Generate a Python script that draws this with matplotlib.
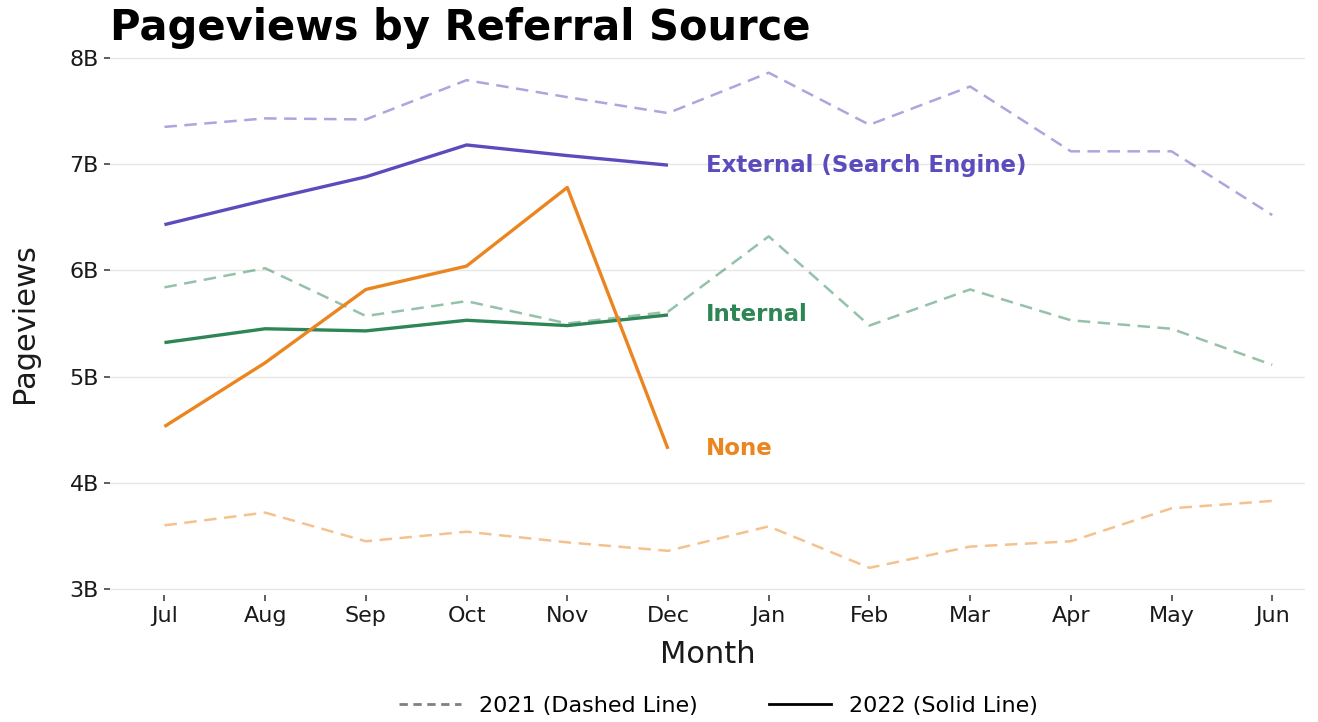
import numpy as np
import matplotlib.pyplot as plt
from matplotlib.lines import Line2D

months = ["Jul", "Aug", "Sep", "Oct", "Nov", "Dec",
          "Jan", "Feb", "Mar", "Apr", "May", "Jun"]

# values in billions
external_2021 = [7.35, 7.43, 7.42, 7.79, 7.63, 7.48, 7.86, 7.37, 7.73, 7.12, 7.12, 6.52]
internal_2021 = [5.84, 6.02, 5.57, 5.71, 5.50, 5.61, 6.32, 5.48, 5.82, 5.53, 5.45, 5.11]
none_2021 = [3.60, 3.72, 3.45, 3.54, 3.44, 3.36, 3.59, 3.20, 3.40, 3.45, 3.76, 3.83]

external_2022 = [6.43, 6.66, 6.88, 7.18, 7.08, 6.99]
internal_2022 = [5.32, 5.45, 5.43, 5.53, 5.48, 5.58]
none_2022 = [4.53, 5.13, 5.82, 6.04, 6.78, 4.32]

sources = ["External (Search Engine)", "Internal", "None"]
colors = ["#5b4cbe", "#2e8555", "#ea8520"]

plt.rcParams['font.family'] = ['DejaVu Sans']

fig = plt.figure(figsize=(13.18, 7.22), dpi=100)
ax = fig.add_axes([0.0835, 0.176, 0.907, 0.752])

x_all = np.arange(len(months))
x_22 = np.arange(len(external_2022))

old = [external_2021, internal_2021, none_2021]
new = [external_2022, internal_2022, none_2022]
for name, c, y21, y22 in zip(sources, colors, old, new):
    ax.plot(x_all, y21, color=c, alpha=0.5, lw=1.8, dashes=(5, 3))
    ax.plot(x_22, y22, color=c, lw=2.4, solid_capstyle='butt')
    ax.text(x_22[-1] + 0.38, y22[-1], name, color=c, fontsize=16.5,
            fontweight='bold', va='center', ha='left')

ax.set_xlim(-0.54, 11.33)
ax.set_ylim(2.945, 8.055)
ax.set_xticks(x_all)
ax.set_xticklabels(months)
yt = [3, 4, 5, 6, 7, 8]
ax.set_yticks(yt)
ax.set_yticklabels([f"{v}B" for v in yt])
ax.tick_params(axis='both', labelsize=16, colors='#333333', labelcolor='#1a1a1a',
               length=4, width=1.1, pad=4)
ax.grid(axis='y', color='#e6e6e6', lw=1)
ax.set_axisbelow(True)
for s in ax.spines.values():
    s.set_visible(False)

ax.set_xlabel("Month", fontsize=22, color='#1a1a1a', labelpad=10)
ax.set_ylabel("Pageviews", fontsize=22, color='#1a1a1a', labelpad=22)

fig.text(0.0835, 0.932, "Pageviews by Referral Source", fontsize=30,
         fontweight='bold', ha='left', va='bottom')

handles = [Line2D([0], [0], color='#808080', lw=2, dashes=(3, 2)),
           Line2D([0], [0], color='black', lw=2)]
fig.legend(handles, ["2021 (Dashed Line)", "2022 (Solid Line)"],
           loc='center', bbox_to_anchor=(0.545, 0.022), ncol=2, frameon=False,
           fontsize=16, handlelength=2.8, columnspacing=3.2)

fig.savefig("out.png", dpi=100)
